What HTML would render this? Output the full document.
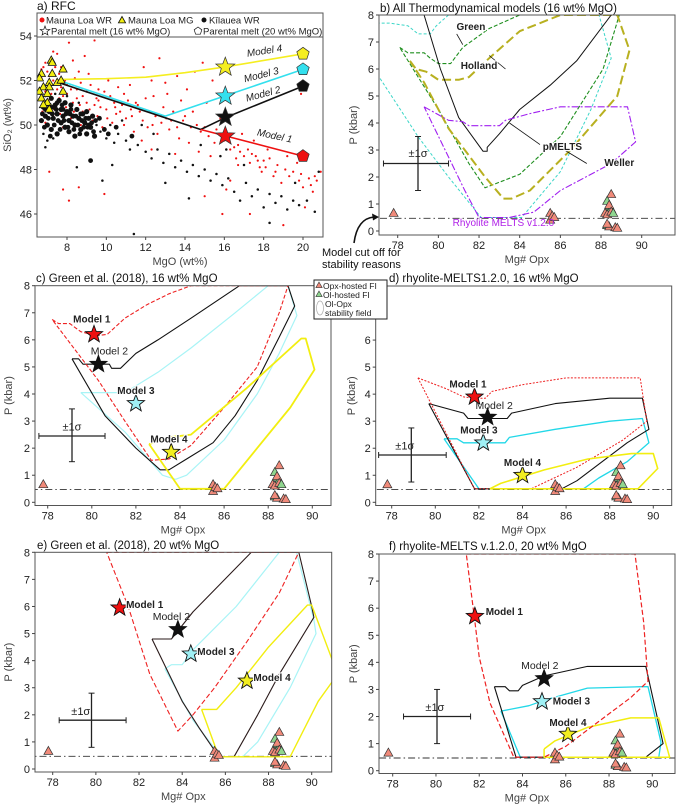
<!DOCTYPE html>
<html><head><meta charset="utf-8">
<style>
html,body{margin:0;padding:0;background:#fff;}
svg{display:block;font-family:"Liberation Sans","DejaVu Sans",sans-serif;}
</style></head>
<body>
<svg id="fig" width="685" height="805" viewBox="0 0 685 805" xmlns="http://www.w3.org/2000/svg"></svg>
<script>
// ---------- Panel a data ----------
const redWR = [[6.7,52.5],[6.9,52.8],[7.1,52.2],[7.3,53.3],[7.5,53.2],[7.7,52.6],[8.1,53.7],[8.3,52.9],[9.4,53.8],[8.6,52.4],[10.1,52.0],[11.2,51.8],[12.3,52.0],[13.6,52.2],[14.5,52.4],[15.4,52.0],[16.2,52.6],[14.1,51.6],[13.1,51.4],[12.0,51.2],[11.5,51.0],[10.8,50.9],[10.2,51.3],[9.5,51.2],[9.0,51.5],[8.5,51.6],[8.0,51.4],[7.6,51.2],[7.2,50.8],[6.8,51.0],[7.0,51.8],[7.4,51.9],[7.9,52.0],[8.8,50.6],[9.7,50.8],[10.5,50.5],[11.0,50.3],[11.7,50.6],[12.5,50.4],[12.8,50.1],[13.4,50.6],[13.9,50.2],[14.3,49.9],[14.8,49.7],[15.2,49.5],[15.6,49.8],[16.0,49.3],[16.5,49.0],[16.8,48.8],[17.2,48.9],[17.6,48.6],[18.0,48.4],[18.3,48.5],[18.7,48.2],[19.1,48.0],[19.5,47.9],[19.9,47.8],[20.3,47.6],[20.7,47.5],[20.9,47.9],[18.5,47.7],[17.9,47.9],[17.3,48.3],[16.7,48.2],[16.3,47.5],[15.9,46.0],[17.3,46.0],[19.0,45.5],[20.1,46.3],[20.5,47.0],[14.7,48.8],[14.2,49.2],[13.7,49.4],[13.2,49.8],[12.6,49.6],[12.1,49.9],[11.4,49.7],[10.9,50.0],[10.3,50.1],[9.8,49.9],[9.3,50.2],[8.7,50.0],[8.2,50.3],[7.8,49.9],[7.3,50.4],[6.9,50.1],[7.1,47.9],[7.8,47.1],[8.1,46.6],[8.6,47.2],[9.9,46.9],[15.0,46.8],[16.1,47.1],[12.3,48.9],[13.5,48.7],[11.8,49.3],[19.9,51.4],[15.1,51.0],[14.4,50.6],[15.8,50.3],[16.9,49.6],[17.5,49.3],[18.2,48.9],[19.2,48.6],[19.7,48.3],[9.1,52.3],[10.6,51.7],[11.9,52.6],[13.0,51.9],[14.9,52.8],[12.7,53.0],[8.9,53.1],[7.5,51.6],[8.3,51.0],[9.6,51.6],[10.9,51.4],[12.9,50.8],[13.8,51.1],[15.3,48.6],[16.6,48.5],[17.8,48.1],[18.9,47.4],[20.0,47.2],[20.6,47.7],[6.7,52.1],[6.8,52.6],[6.9,51.5],[7.0,52.4],[7.2,51.4],[7.3,52.0],[7.4,52.6],[7.6,52.3],[7.7,51.7],[7.8,51.3],[7.9,52.5],[8.0,51.8],[8.2,51.6],[8.4,52.1],[8.5,51.2],[8.7,51.9],[8.8,51.3],[9.0,51.0],[9.2,51.8],[9.4,50.9],[9.6,51.1],[9.9,51.5],[10.0,50.7],[10.4,51.0],[10.7,50.6],[11.1,51.1],[11.3,50.4],[11.6,50.9],[12.2,50.6],[12.4,51.3],[12.8,50.4],[13.3,50.2],[13.6,49.9],[14.0,50.4],[14.6,50.0],[15.0,49.9],[15.5,49.2],[15.9,49.6],[16.3,48.9],[16.7,49.1],[17.0,48.6],[17.4,48.7],[17.7,48.4],[18.1,48.1],[18.6,47.9],[19.3,47.7],[19.8,47.5],[20.4,47.3],[6.75,50.6],[7.05,51.1],[7.35,50.7],[7.65,50.5],[7.95,50.8],[8.35,50.6],[8.65,50.9],[9.15,50.7],[9.55,50.4],[10.05,50.3],[10.45,50.8],[11.25,50.7],[11.85,50.2],[12.35,50.0],[13.05,50.3]];
const blackWR = [[6.7,50.2],[6.8,50.8],[6.9,50.4],[7.0,51.0],[7.0,50.0],[7.1,50.6],[7.2,51.2],[7.2,49.8],[7.3,50.3],[7.4,50.9],[7.5,50.5],[7.5,49.6],[7.6,51.1],[7.7,50.1],[7.7,50.7],[7.8,50.4],[7.9,49.9],[7.9,51.0],[8.0,50.6],[8.1,50.2],[8.1,49.7],[8.2,50.9],[8.3,50.4],[8.4,50.0],[8.4,49.5],[8.5,50.7],[8.6,50.3],[8.7,49.8],[8.8,50.5],[8.9,50.1],[9.0,49.6],[9.0,50.6],[9.1,50.3],[9.2,49.9],[9.3,50.4],[9.4,49.5],[6.8,49.6],[7.0,49.3],[7.3,49.4],[6.9,51.3],[7.4,51.4],[8.0,51.3],[8.6,51.0],[9.5,50.0],[9.7,49.7],[10.0,49.4],[10.2,50.0],[10.4,49.2],[10.6,49.6],[11.0,49.3],[11.2,48.9],[11.6,49.1],[12.0,48.8],[12.3,48.5],[12.6,48.9],[12.9,48.3],[13.2,48.7],[13.5,48.1],[13.8,48.4],[14.1,47.9],[14.4,48.2],[14.7,47.7],[15.0,48.0],[15.3,47.5],[15.6,47.8],[15.9,47.3],[16.2,47.6],[16.5,47.0],[16.8,46.6],[17.1,47.4],[17.4,46.8],[17.7,47.1],[18.0,46.3],[18.3,46.9],[18.6,46.5],[18.9,46.8],[19.2,46.2],[19.5,46.6],[19.8,46.4],[20.2,46.6],[20.6,46.1],[20.8,47.9],[18.3,45.6],[14.2,46.7],[11.4,45.1],[9.8,47.5],[8.5,48.1],[6.9,49.0],[13.0,47.4],[15.8,48.6],[17.0,48.2],[12.4,49.6],[11.8,50.0],[10.8,50.2],[16.1,48.9],[19.6,47.4],[14.8,49.1],[10.3,48.2],[9.2,48.4],[6.75,50.5],[6.85,49.9],[7.05,50.3],[7.15,49.5],[7.25,50.5],[7.35,50.0],[7.45,50.7],[7.55,50.2],[7.65,49.8],[7.75,50.9],[7.85,50.2],[7.95,50.5],[8.05,49.9],[8.15,50.5],[8.25,50.1],[8.35,49.8],[8.45,50.4],[8.55,50.0],[8.65,49.6],[8.75,50.2],[8.85,49.9],[8.95,50.3],[9.05,49.9],[9.25,50.1],[9.35,49.7],[9.45,50.2],[9.65,50.3],[9.9,49.8],[6.9,50.7],[7.1,50.9],[7.3,50.8],[7.5,51.0],[7.8,50.7],[8.2,50.7],[8.7,50.5],[9.1,50.0],[10.1,49.6],[10.5,49.9],[11.3,49.5]];
const mgX = [7.2,7.25,7.8,6.7,7.25,6.6,7.1,7.5,7.7,6.8,7.1,6.6,7.0,7.8,6.7,7.0,6.8,7.1];
const mgY = [52.9,52.8,52.5,52.3,52.3,52.1,51.9,51.9,52.0,51.7,51.7,51.5,51.4,51.5,51.2,51.0,50.9,50.7];
// model paths panel a
const aModel1 = [[14.8,49.8],[16.1,49.5],[20,48.6]];
const aTrunk = [[7.6,51.9],[14.8,49.8]];
const aModel2 = [[14.8,49.8],[16.1,50.35],[20,51.75]];
const aModel3 = [[7.6,52.0],[13,50.4],[16,51.3],[20,52.5]];
const aModel4 = [[7.7,52.05],[10,52.08],[12,52.15],[14,52.35],[16,52.6],[20,53.2]];
const aStarsY = [49.5,50.35,51.3,52.6];
const aPentY = [48.6,51.75,52.5,53.2];
const modelColors = ['#ee1111','#111111','#33e0ee','#f5ee20'];

// ---------- FI data (shared) ----------
const fiX = [77.8,85.5,85.5,85.6,85.7,88.5,88.3,88.4,88.5,88.4,88.2,88.3,88.5,88.6,88.3,88.4,88.7,88.8,88.3];
const fiP = [0.65,0.65,0.4,0.55,0.5,1.35,1.1,0.9,0.8,0.95,0.65,0.6,0.7,0.65,0.2,0.15,0.12,0.1,0.25];
const fiType = ['o','o','o','o','o','o','g','g','g','o','o','o','o','g','g','o','o','o','o'];

// ---------- Panel b data ----------
const bCyan = [[80.5,8.0],[79.9,7.6],[79.6,7.3],[79.0,7.3],[78.5,7.6],[77.6,7.7],[77.0,7.7]];
const bCyan2 = [[77.0,5.8],[79,3.5],[80.5,2],[82.1,0.5],[84.1,0.5],[86,2.2],[87.5,4.5],[88.5,6.4],[87.9,8.0],[80.5,8.0]];
const bGreen = [[78.1,6.8],[78.5,6.6],[79.3,6.6],[79.6,6.4],[80,6.2],[80.6,6.2],[81.2,6.8],[82.5,7.5],[84,8.0],[88.9,8.0],[88.1,6.0],[86,3.5],[84,2.1],[82.3,1.6],[81.5,2.5],[80,4.5],[78.1,6.8]];
const bOlive = [[78.6,6.3],[78.9,6.0],[79.4,5.9],[80,5.6],[81,5.6],[81.5,5.7],[82.5,6.4],[84,7.4],[86,8.0],[88.8,8.0],[89.4,6.7],[88.8,5],[86.5,3],[84.5,1.5],[83.6,1.2],[83.2,1.2],[82.3,2],[80.5,3.8],[79.3,5.5],[78.6,6.3]];
const bBlack = [[79.3,8.0],[80.1,6.0],[81,4.2],[82.2,2.95],[82.4,2.95],[82.4,3.1],[83,3.6],[84,4.5],[85.5,5.4],[86.8,6.3],[88.5,8.0]];
const bPurple = [[79.3,4.6],[80.5,4.1],[81.2,4.05],[81.5,3.9],[83,3.9],[83.3,4.1],[84.5,4.35],[86,4.6],[88,4.6],[89.3,4.6],[89.7,3.3],[88.5,2.5],[86,1.5],[84.7,0.7],[83.5,0.5],[82,0.5],[81.3,1.5],[79.3,4.6]];

// ---------- Panel c data ----------
const cM1 = [[78.2,6.75],[78.5,6.6],[79,6.6],[79.5,6.3],[80.2,6.15],[80.7,6.2],[81.5,6.8],[82.5,7.3],[83.5,7.7],[84.5,8.0],[88.9,8.0],[88.5,7],[87.5,5],[86,3.5],[84.5,2.1],[83.5,1.6],[82.7,1.55],[81.5,3],[80.3,4.5],[78.2,6.75]];
const cM2 = [[79.1,5.3],[79.4,5.3],[79.6,5.1],[80.8,5.1],[80.9,4.95],[81.3,4.95],[82,5.5],[83,6],[84.5,6.8],[86.7,8.0],[88.9,8.0],[89.2,7.25],[88.5,6.1],[87.5,4.5],[86.5,3.2],[85.5,2.2],[84.3,1.6],[83.5,1.2],[83.1,1.2],[82,2],[80.6,3.2],[79.1,5.3]];
const cM3 = [[79.5,4.05],[81.5,4.05],[83,4.8],[84.5,5.7],[86.5,7],[88,8.0],[88.9,8.0],[89.3,6.9],[88.5,5.5],[87.5,4],[86,2.3],[84.3,1.0],[83.8,0.85],[83.2,1],[81.5,2.6],[79.5,4.05]];
const cM4 = [[82.6,2.15],[83.5,2.4],[84.5,2.5],[87,4.2],[89.5,6.05],[89.7,6.05],[90.1,4.9],[89,3.5],[87.5,2],[86,0.5],[84,0.5],[82.6,2.15]];
const cStars = [[80.1,6.2],[80.3,5.1],[82.0,3.65],[83.6,1.85]];

// ---------- Panel d data ----------
const dM1 = [[79.2,4.6],[80.5,4.2],[81.3,3.9],[81.8,3.85],[82.3,3.85],[82.6,4.1],[84,4.35],[86,4.6],[89.4,4.6],[89.7,3.0],[88.6,2.3],[86.5,1.3],[84.4,0.5],[81.8,0.5],[79.2,4.6]];
const dM2 = [[79.7,3.65],[81.3,3.3],[81.5,3.1],[83.3,3.1],[83.5,3.3],[85.5,3.65],[88,3.85],[89.5,3.85],[89.8,2.7],[88.8,2.2],[86.5,0.8],[85.8,0.5],[81.8,0.5],[79.7,3.65]];
const dM3 = [[80.4,2.35],[81,2.35],[81.3,2.2],[83.2,2.2],[83.4,2.4],[85.5,2.7],[88,3.0],[89.5,3.1],[89.8,2.2],[88.8,1.5],[87.5,0.9],[86.8,0.5],[82,0.5],[80.4,2.35]];
const dM4 = [[82.5,0.5],[83,0.7],[85,1.2],[87,1.6],[89,1.8],[90,1.8],[90.2,1.25],[89.3,0.5],[82.5,0.5]];
const dStars = [[81.8,3.9],[82.4,3.15],[82.2,2.2],[84.0,1.0]];

// ---------- Panel e data ----------
const eM1 = [[80.5,8.0],[89.4,8.0],[88.5,6.5],[87,4.7],[85.5,3],[84.5,2],[83.8,1.4],[82.5,3.5],[81.5,6],[80.5,8.0]];
const eM2 = [[82.6,4.8],[83.5,4.8],[84.5,5.8],[87.2,8.0],[89.4,8.0],[90,6],[90.1,5.6],[88.5,3.5],[87.5,2],[86.4,0.45],[85.7,0.45],[84.8,1.5],[84,2.5],[82.6,4.8]];
const eM3 = [[83.2,3.7],[83.5,3.85],[84,3.85],[84.5,4.4],[86.5,6],[88.5,8.0],[89.3,8.0],[90.1,5.5],[90.2,5],[89,3],[87.5,1],[86.8,0.45],[85.8,0.45],[84.5,1.8],[83.2,3.7]];
const eM4 = [[84.9,2.2],[85.6,2.2],[86.5,3],[88,4.5],[89.8,6.05],[90,6.05],[91.2,3.5],[90.3,2.5],[89,0.45],[85.7,0.45],[84.9,2.2]];
const eStars = [[81.1,5.95],[83.8,5.15],[84.4,4.25],[87.0,3.25]];

// ---------- Panel f data ----------
const fM1 = [[81.4,8.0],[89.2,8.0],[89.6,5.5],[89.8,3.3],[89,2.7],[87.5,1.8],[86,0.9],[85,0.5],[83.6,0.5],[82.5,2.5],[82,4.2],[81.8,5.5],[81.4,8.0]];
const fM2 = [[82.7,3.1],[83.2,3.1],[83.4,2.95],[83.8,2.95],[84,3.15],[85,3.5],[87,3.85],[89.7,3.85],[90.5,1.0],[89.7,0.5],[83.7,0.5],[82.7,3.1]];
const fM3 = [[83,2.2],[84.3,2.4],[85,2.6],[87,3.05],[89.5,3.1],[89.8,3.1],[90.4,1.05],[90.3,0.5],[83.9,0.5],[83,2.2]];
const fM4 = [[85,0.8],[85.5,1.1],[87,1.6],[89,1.95],[90.3,1.95],[90.8,0.5],[85,0.5],[85,0.8]];
const fStars = [[81.8,5.7],[85.0,3.4],[84.9,2.55],[86.1,1.35]];

const xTicks = [78,80,82,84,86,88,90];
const pTicks = [0,1,2,3,4,5,6,7,8];

// ---------- helpers ----------
const NS='http://www.w3.org/2000/svg';
const svg=document.getElementById('fig');
function mk(tag,attrs,parent,name,inter){
  const e=document.createElementNS(NS,tag);
  for(const k in attrs) e.setAttribute(k,attrs[k]);
  
  
  (parent||svg).appendChild(e);
  return e;
}
function txt(x,y,s,attrs,parent,name){
  const t=mk('text',Object.assign({x:x,y:y,'font-size':10,fill:'#222'},attrs||{}),parent,name,false);
  t.textContent=s;return t;
}
function panel(id,box,xd,xp,yd,yp){
  // xd=[d0,d1] xp=[p0,p1]
  const p={box:box};
  p.sx=v=>xp[0]+(v-xd[0])*(xp[1]-xp[0])/(xd[1]-xd[0]);
  p.sy=v=>yp[0]+(v-yd[0])*(yp[1]-yp[0])/(yd[1]-yd[0]);
  const cp=mk('clipPath',{id:'clip-'+id},svg,'clip-'+id,false);
  mk('rect',{x:box[0],y:box[1],width:box[2]-box[0],height:box[3]-box[1]},cp,'clip-rect',false);
  p.g=mk('g',{},svg,'panel-'+id,false);
  p.plot=mk('g',{'clip-path':'url(#clip-'+id+')'},p.g,'plot-area-'+id,false);
  return p;
}
function frame(p,name){
  const b=p.box;
  mk('rect',{x:b[0],y:b[1],width:b[2]-b[0],height:b[3]-b[1],fill:'none',stroke:'#555','stroke-width':1},p.g,name,false);
}
function pathOf(p,pts){return pts.map((q,i)=>(i?'L':'M')+p.sx(q[0]).toFixed(1)+','+p.sy(q[1]).toFixed(1)).join('');}
function line(p,pts,stroke,w,dash,name){
  const a={d:pathOf(p,pts),fill:'none',stroke:stroke,'stroke-width':w,'stroke-linejoin':'round'};
  if(dash)a['stroke-dasharray']=dash;
  return mk('path',a,p.plot,name,false);
}
function starPath(cx,cy,r){
  let d='';for(let i=0;i<10;i++){const rr=i%2?r*0.42:r;const a=-Math.PI/2+i*Math.PI/5;d+=(i?'L':'M')+(cx+rr*Math.cos(a)).toFixed(1)+','+(cy+rr*Math.sin(a)).toFixed(1);}return d+'Z';
}
function pentPath(cx,cy,r){
  let d='';for(let i=0;i<5;i++){const a=-Math.PI/2+i*2*Math.PI/5;d+=(i?'L':'M')+(cx+r*Math.cos(a)).toFixed(1)+','+(cy+r*Math.sin(a)).toFixed(1);}return d+'Z';
}
function triPath(cx,cy,s){return 'M'+cx+','+(cy-s)+'L'+(cx+s*0.9)+','+(cy+s*0.6)+'L'+(cx-s*0.9)+','+(cy+s*0.6)+'Z';}
function xAxis(p,ticks,label,name){
  const b=p.box;
  ticks.forEach(t=>{
    const x=p.sx(t);
    mk('line',{x1:x,x2:x,y1:b[3],y2:b[3]+3,stroke:'#444'},p.g,name+'-tick',false);
    txt(x,b[3]+14,String(t),{'text-anchor':'middle','font-size':11},p.g,name+'-tick-label');
  });
  if(label) txt((b[0]+b[2])/2,b[3]+28,label,{'text-anchor':'middle','font-size':11,fill:'#444'},p.g,name+'-title');
}
function yAxis(p,ticks,label,name,lx){
  const b=p.box;
  ticks.forEach(t=>{
    const y=p.sy(t);
    if(y<b[1]-1||y>b[3]+1) return;
    mk('line',{x1:b[0]-3,x2:b[0],y1:y,y2:y,stroke:'#444'},p.g,name+'-tick',false);
    txt(b[0]-5,y+4,String(t),{'text-anchor':'end','font-size':11},p.g,name+'-tick-label');
  });
  const cy=(b[1]+b[3])/2;
  txt(lx,cy,label,{'text-anchor':'middle','font-size':11,fill:'#444',transform:'rotate(-90 '+lx+' '+cy+')'},p.g,name+'-title');
}
function fi(p){
  fiX.forEach((x,i)=>{
    mk('path',{d:triPath(p.sx(x),p.sy(fiP[i]),5),fill:fiType[i]==='g'?'#8fd68f':'#f08a7a',stroke:'#333','stroke-width':0.7},p.plot,fiType[i]==='g'?'ol-hosted-fi':'opx-hosted-fi',false);
  });
}
function cutLine(p){line(p,[[70,0.47],[95,0.47]],'#333',0.9,'7 3 1.5 3','model-cutoff-line');}
function sigma(p,x0,x1,y,xv,y0,y1,lx,ly){
  line(p,[[x0,y],[x1,y]],'#222',1.3,null,'sigma-h');
  line(p,[[xv,y0],[xv,y1]],'#222',1.3,null,'sigma-v');
  [[x0,y],[x1,y]].forEach(q=>mk('line',{x1:p.sx(q[0]),x2:p.sx(q[0]),y1:p.sy(q[1])-3,y2:p.sy(q[1])+3,stroke:'#222'},p.plot,'sigma-cap',false));
  [[xv,y0],[xv,y1]].forEach(q=>mk('line',{x1:p.sx(q[0])-3,x2:p.sx(q[0])+3,y1:p.sy(q[1]),y2:p.sy(q[1]),stroke:'#222'},p.plot,'sigma-cap',false));
  txt(p.sx(lx),p.sy(ly),'±1σ',{'font-size':11,'text-anchor':'middle'},p.plot,'sigma-label');
}
function stars(p,arr,fills){
  arr.forEach((q,i)=>mk('path',{d:starPath(p.sx(q[0]),p.sy(q[1]),9),fill:fills[i],stroke:'#111','stroke-width':0.9},p.plot,'star-model-'+(i+1),false));
}
function mlabel(p,x,y,s,anchor){
  txt(p.sx(x),p.sy(y),s,{'font-size':10,'font-weight':'bold','text-anchor':anchor||'middle',fill:'#222',stroke:'#fff','stroke-width':2.2,'paint-order':'stroke'},p.plot,'model-label');
}
const starFills=['#ee1111','#111111','#9ff0f5','#f2ee20'];
const lightCyan='#a8f4f6';

// ================= Panel a =================
const pa=panel('a',[37,13,323,237],[8,20],[67,303],[54,46],[36,214]);
redWR.forEach(q=>mk('circle',{cx:pa.sx(q[0]),cy:pa.sy(q[1]),r:1.1,fill:'#f01010'},pa.plot,'mauna-loa-wr-point',false));
blackWR.forEach(q=>mk('circle',{cx:pa.sx(q[0]),cy:pa.sy(q[1]),r:1.25,fill:'#111'},pa.plot,'kilauea-wr-point',false));
// denser black cluster markers (same data, larger)
blackWR.slice(0,36).forEach(q=>mk('circle',{cx:pa.sx(q[0]),cy:pa.sy(q[1]),r:2.6,fill:'#111'},pa.plot,'kilauea-wr-point-dense',false));
blackWR.slice(98).forEach(q=>mk('circle',{cx:pa.sx(q[0]),cy:pa.sy(q[1]),r:2.4,fill:'#111'},pa.plot,'kilauea-wr-point-dense',false));
line(pa,aModel4,'#f5ee20',1.6,null,'model-4-line');
line(pa,aModel3,'#33e0ee',1.6,null,'model-3-line');
line(pa,aTrunk,'#111',1.6,null,'model-trunk-line');
line(pa,aModel2,'#111',1.6,null,'model-2-line');
line(pa,aModel1,'#ee1111',1.6,null,'model-1-line');
mgX.forEach((x,i)=>mk('path',{d:triPath(pa.sx(x),pa.sy(mgY[i]),4.5),fill:'#f2ee10',stroke:'#111','stroke-width':0.8},pa.plot,'mauna-loa-mg-point',false));
aStarsY.forEach((y,i)=>mk('path',{d:starPath(pa.sx(16.05),pa.sy(y),10),fill:modelColors[i],stroke:'#333','stroke-width':0.7},pa.plot,'parental-star-16',false));
aPentY.forEach((y,i)=>mk('path',{d:pentPath(pa.sx(20),pa.sy(y),6.5),fill:modelColors[i],stroke:'#333','stroke-width':0.7},pa.plot,'parental-pentagon-20',false));
txt(265,54,'Model 4',{'font-size':10,'font-style':'italic',transform:'rotate(-9 265 54)','text-anchor':'middle'},pa.plot,'model-4-label');
txt(262,78,'Model 3',{'font-size':10,'font-style':'italic',transform:'rotate(-14 262 78)','text-anchor':'middle'},pa.plot,'model-3-label');
txt(264,97,'Model 2',{'font-size':10,'font-style':'italic',transform:'rotate(-15 264 97)','text-anchor':'middle'},pa.plot,'model-2-label');
txt(274,139,'Model 1',{'font-size':10,'font-style':'italic',transform:'rotate(12 274 139)','text-anchor':'middle'},pa.plot,'model-1-label');
// legend
mk('rect',{x:37,y:13,width:286,height:24,fill:'#fff',stroke:'#555','stroke-width':1},pa.g,'legend-box-a',false);
mk('circle',{cx:42,cy:20,r:2.5,fill:'#f01010'},pa.g,'legend-marker-mauna-loa-wr',false);
txt(46,23.5,'Mauna Loa WR',{'font-size':9.5},pa.g,'legend-entry-mauna-loa-wr');
mk('path',{d:triPath(122,20.5,4),fill:'#f2ee10',stroke:'#111','stroke-width':0.8},pa.g,'legend-marker-mauna-loa-mg',false);
txt(128,23.5,'Mauna Loa MG',{'font-size':9.5},pa.g,'legend-entry-mauna-loa-mg');
mk('circle',{cx:204,cy:20,r:2.5,fill:'#111'},pa.g,'legend-marker-kilauea-wr',false);
txt(209,23.5,'Kīlauea WR',{'font-size':9.5},pa.g,'legend-entry-kilauea-wr');
mk('path',{d:starPath(45,31,5),fill:'#fff',stroke:'#111','stroke-width':0.7},pa.g,'legend-marker-star',false);
txt(51,34.5,'Parental melt (16 wt% MgO)',{'font-size':9.5},pa.g,'legend-entry-parental-16');
mk('path',{d:pentPath(198,31,4),fill:'#fff',stroke:'#111','stroke-width':0.7},pa.g,'legend-marker-pentagon',false);
txt(203,34.5,'Parental melt (20 wt% MgO)',{'font-size':9.5},pa.g,'legend-entry-parental-20');
frame(pa,'axes-frame-a');
xAxis(pa,[8,10,12,14,16,18,20],'MgO (wt%)','x-axis-a');
yAxis(pa,[46,48,50,52,54],'SiO₂ (wt%)','y-axis-a',11);
txt(37,10,'a) RFC',{'font-size':12,fill:'#111'},pa.g,'panel-a-title');

// ================= Panel b =================
const pb=panel('b',[379,15,675,235],[78,90],[397.7,641.7],[8,0],[15,231]);
cutLine(pb);
line(pb,bCyan,'#3cd6c8',1,'3 2','cyan-upper-boundary');
line(pb,bCyan2,'#3cd6c8',1,'3 2','cyan-stability-field');
line(pb,bGreen,'#1f8f1f',1.1,'4 2','green-stability-field');
line(pb,bOlive,'#b8b020',2,'9 4','holland-stability-field');
line(pb,bBlack,'#111',1,null,'pmelts-stability-field');
line(pb,bPurple,'#a020f0',1.1,'7 2 2 2','weller-stability-field');
fi(pb);
sigma(pb,77.3,80.5,2.5,79.0,1.5,3.5,79.0,2.75);
line(pb,[[81.2,6.9],[80.9,7.3]],'#111',0.8,null,'green-leader');
line(pb,[[82.5,6.5],[83.3,6.0]],'#111',0.8,null,'holland-leader');
line(pb,[[83.5,4.0],[85,3.2]],'#111',0.8,null,'pmelts-leader');
line(pb,[[86.2,3.0],[87.3,2.5]],'#111',0.8,null,'weller-leader');
mlabel(pb,81.6,7.45,'Green');
mlabel(pb,82.0,6.0,'Holland');
mlabel(pb,86.1,3.0,'pMELTS');
mlabel(pb,88.9,2.4,'Weller');
txt(pb.sx(83.2),pb.sy(0.18),'Rhyolite MELTS v1.2.0',{'font-size':10,fill:'#b020e8','text-anchor':'middle'},pb.plot,'rhyolite-melts-label');
frame(pb,'axes-frame-b');
xAxis(pb,xTicks,'Mg# Opx','x-axis-b');
yAxis(pb,pTicks,'P (kbar)','y-axis-b',357);
txt(380,12,'b) All Thermodynamical models (16 wt% MgO)',{'font-size':11.5,fill:'#111'},pb.g,'panel-b-title');

// annotation
mk('path',{d:'M354,243 C356,228 362,218 374,217',fill:'none',stroke:'#111','stroke-width':1.6},svg,'cutoff-arrow',false);
mk('path',{d:'M379,217 L372,213.5 L373,220.5 Z',fill:'#111'},svg,'cutoff-arrowhead',false);
txt(322,256,'Model cut off for',{'font-size':11,fill:'#111'},svg,'cutoff-annotation-line1');
txt(322,268,'stability reasons',{'font-size':11,fill:'#111'},svg,'cutoff-annotation-line2');

// ================= Panel c =================
const pc=panel('c',[35,285.7,331,505.5],[78,90],[47.7,312.3],[8,0],[285.7,502.3]);
cutLine(pc);
line(pc,cM3,lightCyan,1.2,null,'model-3-field');
line(pc,cM2,'#111',1.1,null,'model-2-field');
line(pc,cM1,'#ee2222',1.1,'4 2','model-1-field');
line(pc,cM4,'#f2ee10',1.8,null,'model-4-field');
fi(pc);
stars(pc,cStars,starFills);
sigma(pc,77.6,80.6,2.45,79.1,1.5,3.45,79.1,2.65);
mlabel(pc,80.0,6.65,'Model 1');
txt(pc.sx(80.8),pc.sy(5.45),'Model 2',{'font-size':10.5,'text-anchor':'middle'},pc.plot,'model-2-label');
mlabel(pc,82.0,4.0,'Model 3');
mlabel(pc,83.5,2.2,'Model 4');
frame(pc,'axes-frame-c');
xAxis(pc,xTicks,'Mg# Opx','x-axis-c');
yAxis(pc,pTicks,'P (kbar)','y-axis-c',12);
txt(36,282,'c) Green et al. (2018), 16 wt% MgO',{'font-size':11.5,fill:'#111'},pc.g,'panel-c-title');

// ================= Panel d =================
const pd=panel('d',[375.7,286,671.7,505.5],[78,90],[391.7,653.3],[8,0],[286,502.3]);
cutLine(pd);
line(pd,dM3,'#22d8e8',1.3,null,'model-3-field');
line(pd,dM2,'#111',1.1,null,'model-2-field');
line(pd,dM1,'#ee2222',1,'2 1.5','model-1-field');
line(pd,dM4,'#f2ee10',1.6,null,'model-4-field');
fi(pd);
stars(pd,dStars,starFills);
sigma(pd,77.4,80.5,1.75,78.9,0.75,2.75,78.6,1.95);
mlabel(pd,81.5,4.25,'Model 1');
txt(pd.sx(82.7),pd.sy(3.45),'Model 2',{'font-size':10.5,'text-anchor':'middle'},pd.plot,'model-2-label');
mlabel(pd,82.0,2.55,'Model 3');
mlabel(pd,84.0,1.35,'Model 4');
frame(pd,'axes-frame-d');
xAxis(pd,xTicks,'Mg# Opx','x-axis-d');
yAxis(pd,pTicks.filter(v=>v<7),'P (kbar)','y-axis-d',355);
txt(389,282,'d) rhyolite-MELTS1.2.0, 16 wt% MgO',{'font-size':11.5,fill:'#111'},pd.g,'panel-d-title');

// legend (over c/d)
const lg=mk('g',{},svg,'legend-fi',false);
mk('rect',{x:314,y:280,width:73,height:39,fill:'#fff',stroke:'#222','stroke-width':1},lg,'legend-box-fi',false);
mk('path',{d:triPath(319,285.5,3.5),fill:'#f08a7a',stroke:'#333','stroke-width':0.6},lg,'legend-marker-opx-fi',false);
txt(323,289,'Opx-hosted FI',{'font-size':8.5},lg,'legend-entry-opx-fi');
mk('path',{d:triPath(319,294.5,3.5),fill:'#8fd68f',stroke:'#333','stroke-width':0.6},lg,'legend-marker-ol-fi',false);
txt(323,298,'Ol-hosted FI',{'font-size':8.5},lg,'legend-entry-ol-fi');
mk('ellipse',{cx:320,cy:308,rx:3.5,ry:7,fill:'none',stroke:'#aaa','stroke-width':0.7},lg,'legend-marker-field',false);
txt(325,307,'Ol-Opx',{'font-size':8.5},lg,'legend-entry-field');
txt(325,316,'stability field',{'font-size':8.5},lg,'legend-entry-field-2');

// ================= Panel e =================
const pe=panel('e',[35,552.3,331.7,772],[78,90],[52.7,311.7],[8,0],[552.3,769]);
cutLine(pe);
line(pe,eM3,lightCyan,1.2,null,'model-3-field');
line(pe,eM2,'#2a1a1a',1.1,null,'model-2-field');
line(pe,eM1,'#ee2222',1.1,'5 2.5','model-1-field');
line(pe,eM4,'#f2ee10',1.4,null,'model-4-field');
fi(pe);
stars(pe,eStars,starFills);
sigma(pe,78.3,81.4,1.8,79.8,0.8,2.8,79.3,2.0);
mlabel(pe,81.4,5.95,'Model 1','start');
txt(pe.sx(83.5),pe.sy(5.5),'Model 2',{'font-size':10.5,'text-anchor':'middle'},pe.plot,'model-2-label');
mlabel(pe,84.7,4.2,'Model 3','start');
mlabel(pe,87.3,3.25,'Model 4','start');
frame(pe,'axes-frame-e');
xAxis(pe,xTicks,'Mg# Opx','x-axis-e');
yAxis(pe,pTicks,'P (kbar)','y-axis-e',12);
txt(37,549,'e) Green et al. (2018), 20 wt% MgO',{'font-size':11.5,fill:'#111'},pe.g,'panel-e-title');

// ================= Panel f =================
const pf=panel('f',[379,554,675,773.5],[78,90],[392.7,652.3],[8,0],[554,770.7]);
cutLine(pf);
line(pf,fM3,'#22d8e8',1.3,null,'model-3-field');
line(pf,fM2,'#111',1.1,null,'model-2-field');
line(pf,fM4,'#f2ee10',1.5,null,'model-4-field');
line(pf,fM1,'#ee2222',1.2,'5 2.5','model-1-field');
fi(pf);
stars(pf,fStars,starFills);
sigma(pf,78.5,81.6,2.0,80.05,1.0,3.0,79.95,2.2);
mlabel(pf,82.3,5.75,'Model 1','start');
txt(pf.sx(84.8),pf.sy(3.75),'Model 2',{'font-size':10.5,'text-anchor':'middle'},pf.plot,'model-2-label');
mlabel(pf,85.4,2.45,'Model 3','start');
mlabel(pf,86.1,1.65,'Model 4');
frame(pf,'axes-frame-f');
xAxis(pf,xTicks,'Mg# Opx','x-axis-f');
yAxis(pf,pTicks,'P (kbar)','y-axis-f',357);
txt(389,550,'f) rhyolite-MELTS v.1.2.0, 20 wt% MgO',{'font-size':11.5,fill:'#111'},pf.g,'panel-f-title');
</script>
</body></html>
